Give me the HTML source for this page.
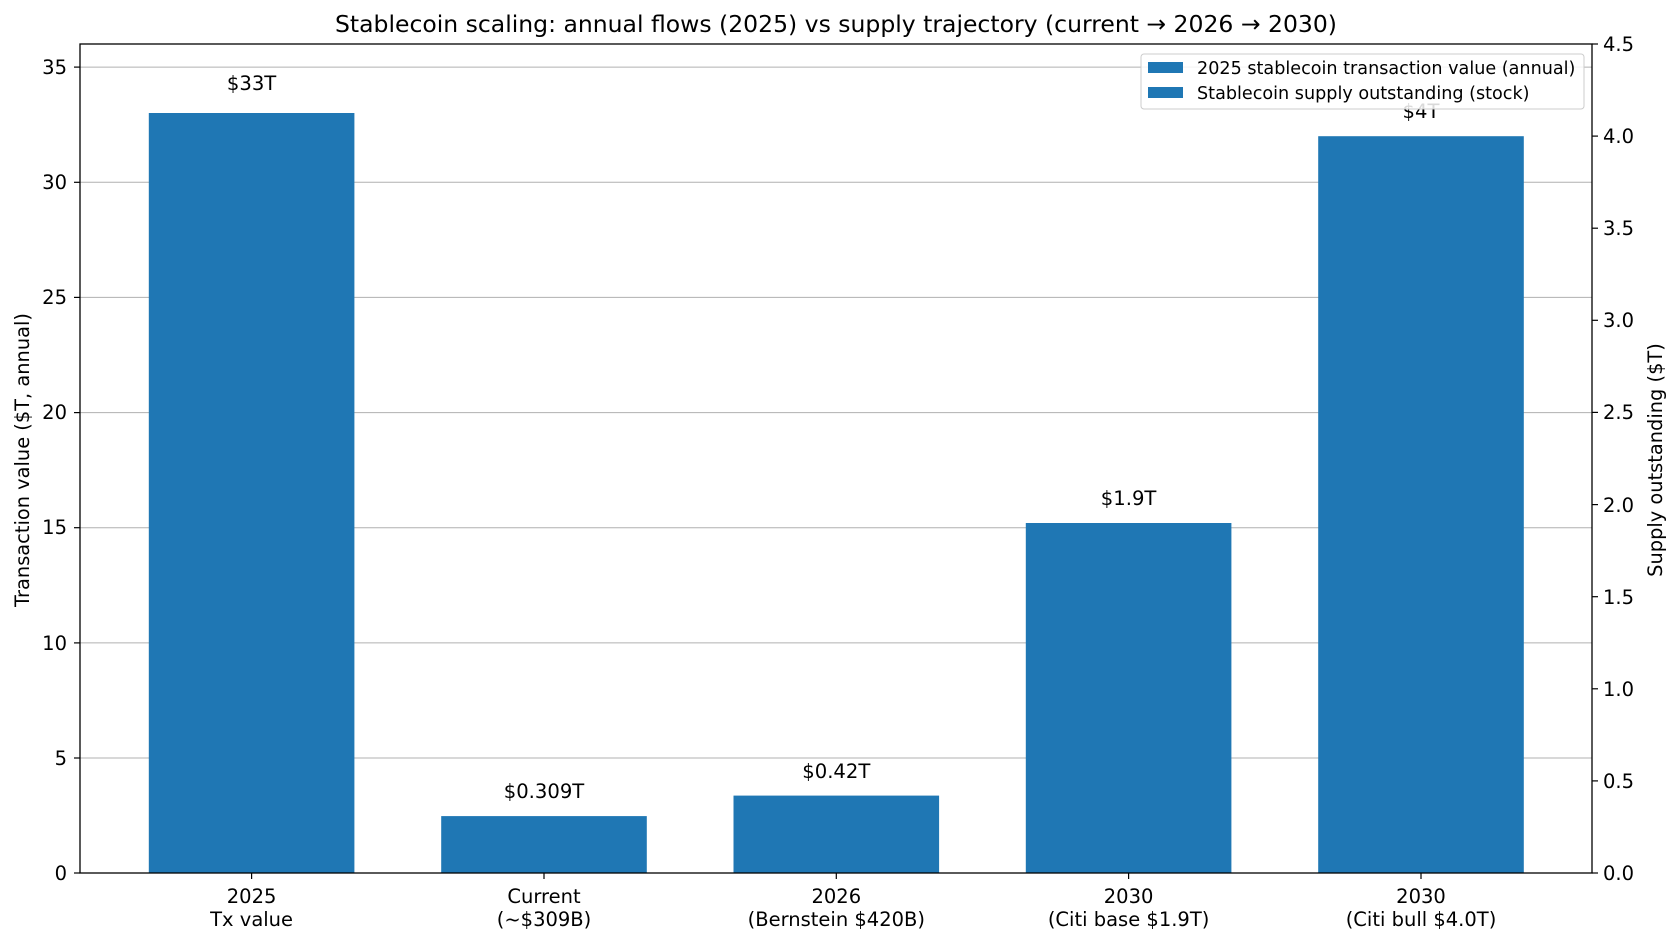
<!DOCTYPE html>
<html><head><meta charset="utf-8"><style>
html,body{margin:0;padding:0;background:#fff}
svg{display:block}
text{font-family:"DejaVu Sans","Liberation Sans",sans-serif;fill:#000}
</style></head><body>
<svg width="1679" height="944" viewBox="0 0 1679 944" xmlns="http://www.w3.org/2000/svg">
<rect width="1679" height="944" fill="#fff"/>
<text x="836" y="32" font-size="23.5" text-anchor="middle">Stablecoin scaling: annual flows (2025) vs supply trajectory (current → 2026 → 2030)</text>
<g stroke="#b0b0b0" stroke-width="1">
<line x1="80" x2="1592" y1="67.1" y2="67.1"/>
<line x1="80" x2="1592" y1="182.3" y2="182.3"/>
<line x1="80" x2="1592" y1="297.4" y2="297.4"/>
<line x1="80" x2="1592" y1="412.6" y2="412.6"/>
<line x1="80" x2="1592" y1="527.7" y2="527.7"/>
<line x1="80" x2="1592" y1="642.9" y2="642.9"/>
<line x1="80" x2="1592" y1="758" y2="758"/>
</g>
<g fill="#1f77b4">
<rect x="148.8" y="113" width="205.6" height="760"/>
<rect x="441.2" y="816.1" width="205.6" height="56.9"/>
<rect x="733.5" y="795.6" width="205.6" height="77.4"/>
<rect x="1025.8" y="523" width="205.6" height="350"/>
<rect x="1318.2" y="136.2" width="205.6" height="736.8"/>
</g>
<g font-size="19.6" text-anchor="middle">
<text x="251.6" y="90">$33T</text>
<text x="544" y="798">$0.309T</text>
<text x="836.3" y="778">$0.42T</text>
<text x="1128.6" y="505">$1.9T</text>
<text x="1421" y="118">$4T</text>
</g>
<rect x="80" y="44" width="1512" height="829" fill="none" stroke="#000" stroke-width="1.3"/>
<g stroke="#000" stroke-width="1.2">
<line x1="74" x2="80" y1="67.1" y2="67.1"/><line x1="74" x2="80" y1="182.3" y2="182.3"/><line x1="74" x2="80" y1="297.4" y2="297.4"/><line x1="74" x2="80" y1="412.6" y2="412.6"/><line x1="74" x2="80" y1="527.7" y2="527.7"/><line x1="74" x2="80" y1="642.9" y2="642.9"/><line x1="74" x2="80" y1="758" y2="758"/><line x1="74" x2="80" y1="873" y2="873"/>
<line x1="1592" x2="1598" y1="44" y2="44"/><line x1="1592" x2="1598" y1="136.1" y2="136.1"/><line x1="1592" x2="1598" y1="228.2" y2="228.2"/><line x1="1592" x2="1598" y1="320.3" y2="320.3"/><line x1="1592" x2="1598" y1="412.4" y2="412.4"/><line x1="1592" x2="1598" y1="504.6" y2="504.6"/><line x1="1592" x2="1598" y1="596.7" y2="596.7"/><line x1="1592" x2="1598" y1="688.8" y2="688.8"/><line x1="1592" x2="1598" y1="780.9" y2="780.9"/><line x1="1592" x2="1598" y1="873" y2="873"/>
<line x1="251.6" x2="251.6" y1="873" y2="879"/><line x1="544" x2="544" y1="873" y2="879"/><line x1="836.3" x2="836.3" y1="873" y2="879"/><line x1="1128.6" x2="1128.6" y1="873" y2="879"/><line x1="1421" x2="1421" y1="873" y2="879"/>
</g>
<g font-size="19.5" text-anchor="end">
<text x="67" y="74">35</text><text x="67" y="189">30</text><text x="67" y="304">25</text><text x="67" y="419">20</text><text x="67" y="534">15</text><text x="67" y="650">10</text><text x="67" y="765">5</text><text x="67" y="880">0</text>
</g>
<g font-size="19.5" text-anchor="start">
<text x="1603" y="51">4.5</text><text x="1603" y="143">4.0</text><text x="1603" y="235">3.5</text><text x="1603" y="327">3.0</text><text x="1603" y="419">2.5</text><text x="1603" y="512">2.0</text><text x="1603" y="604">1.5</text><text x="1603" y="696">1.0</text><text x="1603" y="788">0.5</text><text x="1603" y="880">0.0</text>
</g>
<g font-size="19.5" text-anchor="middle">
<text x="251.6" y="903">2025</text><text x="251.6" y="926">Tx value</text>
<text x="544" y="903">Current</text><text x="544" y="926">(~$309B)</text>
<text x="836.3" y="903">2026</text><text x="836.3" y="926">(Bernstein $420B)</text>
<text x="1128.6" y="903">2030</text><text x="1128.6" y="926">(Citi base $1.9T)</text>
<text x="1421" y="903">2030</text><text x="1421" y="926">(Citi bull $4.0T)</text>
</g>
<text font-size="19.4" text-anchor="middle" transform="translate(29,460) rotate(-90)">Transaction value ($T, annual)</text>
<text font-size="19.4" text-anchor="middle" transform="translate(1662,460) rotate(-90)">Supply outstanding ($T)</text>
<rect x="1141" y="54" width="443" height="55" rx="3" fill="#fff" fill-opacity="0.85" stroke="#ccc" stroke-width="1"/>
<rect x="1148" y="62" width="35" height="11" fill="#1f77b4"/>
<rect x="1148" y="87" width="35" height="11" fill="#1f77b4"/>
<g font-size="17.6"><text x="1197" y="74">2025 stablecoin transaction value (annual)</text><text x="1197" y="99">Stablecoin supply outstanding (stock)</text></g>
</svg>
</body></html>
